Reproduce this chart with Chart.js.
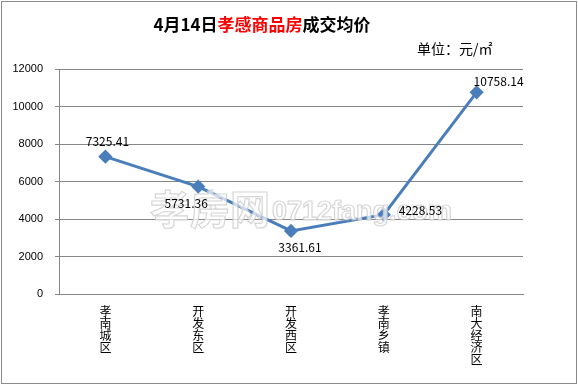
<!DOCTYPE html>
<html>
<head>
<meta charset="utf-8">
<script src="https://cdn.jsdelivr.net/npm/chart.js@4"></script>
<style>
  html, body { margin: 0; padding: 0; background: #fff; }
  #wrap { width: 578px; height: 385px; }
</style>
</head>
<body>
<div id="wrap"><canvas id="chart" width="578" height="385"></canvas></div>
<script>
"use strict";

// chart data
const districts = ['孝南城区', '开发东区', '开发西区', '孝南乡镇', '南大经济区']
const avgPrice = [7325.41, 5731.36, 3361.61, 4228.53, 10758.14]
const yTicks = [0, 2000, 4000, 6000, 8000, 10000, 12000]

// where each value label sits relative to its point: [dx, dy, align]
const labelPlace = [
	[2, -15, 'center'],
	[-12, 17, 'center'],
	[9, 16, 'center'],
	[15, -4, 'left'],
	[-3, -11, 'left']
]

const cjk = '"Noto Sans CJK SC", "DejaVu Sans", sans-serif'
const num = '"Liberation Sans", Arial, sans-serif'

const decor = {
	id: 'decor',
	afterDraw(chart) {
		const ctx = chart.ctx
		ctx.save()

		// outer frame
		ctx.strokeStyle = '#8c8c8c'
		ctx.lineWidth = 1
		ctx.strokeRect(1.5, 1.5, 575, 382)

		// title, middle part in red
		const parts = [['4月14日', '#000'], ['孝感商品房', '#ff0000'], ['成交均价', '#000']]
		ctx.font = 'bold 17px ' + cjk
		ctx.textBaseline = 'middle'
		ctx.textAlign = 'left'
		let total = 0
		parts.forEach(p => total += ctx.measureText(p[0]).width)
		let x = 262 - total / 2
		parts.forEach(p => {
			ctx.fillStyle = p[1]
			ctx.fillText(p[0], x, 25)
			x += ctx.measureText(p[0]).width
		})

		// unit
		ctx.font = '14px ' + cjk
		ctx.fillStyle = '#000'
		ctx.fillText('单位：元/㎡', 417, 49)
		ctx.restore()
	},
	afterDatasetsDraw(chart) {
		const ctx = chart.ctx
		const meta = chart.getDatasetMeta(0)
		ctx.save()

		// watermark
		ctx.globalAlpha = 0.7
		ctx.lineWidth = 1.2
		ctx.strokeStyle = '#c4c4c4'
		ctx.fillStyle = '#ffffff'
		ctx.textBaseline = 'middle'
		ctx.textAlign = 'left'
		ctx.font = 'bold 40px ' + cjk
		ctx.fillText('孝房网', 150, 209)
		ctx.strokeText('孝房网', 150, 209)
		ctx.font = 'bold 27px ' + num
		ctx.fillText('0712fang.com', 272, 213)
		ctx.strokeText('0712fang.com', 272, 213)
		ctx.globalAlpha = 1

		// value labels
		ctx.font = '12px ' + cjk
		ctx.fillStyle = '#000'
		meta.data.forEach((pt, i) => {
			const p = labelPlace[i]
			ctx.textAlign = p[2]
			ctx.fillText(avgPrice[i].toFixed(2), pt.x + p[0], pt.y + p[1])
		})
		ctx.restore()
	}
}

new Chart(document.getElementById('chart'), {
	type: 'line',
	data: {
		labels: districts.map(d => d.split('')),
		datasets: [{
			data: avgPrice,
			borderColor: '#4a7ebb',
			backgroundColor: '#4a7ebb',
			borderWidth: 3,
			pointStyle: 'rectRot',
			pointRadius: 5,
			pointHoverRadius: 5,
			tension: 0
		}]
	},
	options: {
		responsive: false,
		animation: false,
		events: [],
		layout: { padding: { top: 69, right: 55, left: 0, bottom: 0 } },
		plugins: { legend: { display: false }, tooltip: { enabled: false } },
		scales: {
			x: {
				offset: true,
				grid: { display: false, drawOnChartArea: false, drawTicks: true, tickLength: 4, color: '#868686', offset: true },
				border: { color: '#868686' },
				ticks: {
					color: '#000',
					font: { family: cjk, size: 12, lineHeight: 1.0 },
					maxRotation: 0,
					autoSkip: false,
					padding: 7
				},
				afterFit(s) { s.height = 91 }
			},
			y: {
				min: 0,
				max: 12000,
				afterBuildTicks(s) { s.ticks = yTicks.map(v => ({ value: v })) },
				grid: { color: '#868686', tickLength: 4 },
				border: { color: '#868686' },
				ticks: {
					color: '#000',
					font: { family: num, size: 11 },
					padding: 12,
					callback: v => String(v)
				},
				afterFit(s) { s.width = 59 }
			}
		}
	},
	plugins: [decor]
})
</script>
</body>
</html>
